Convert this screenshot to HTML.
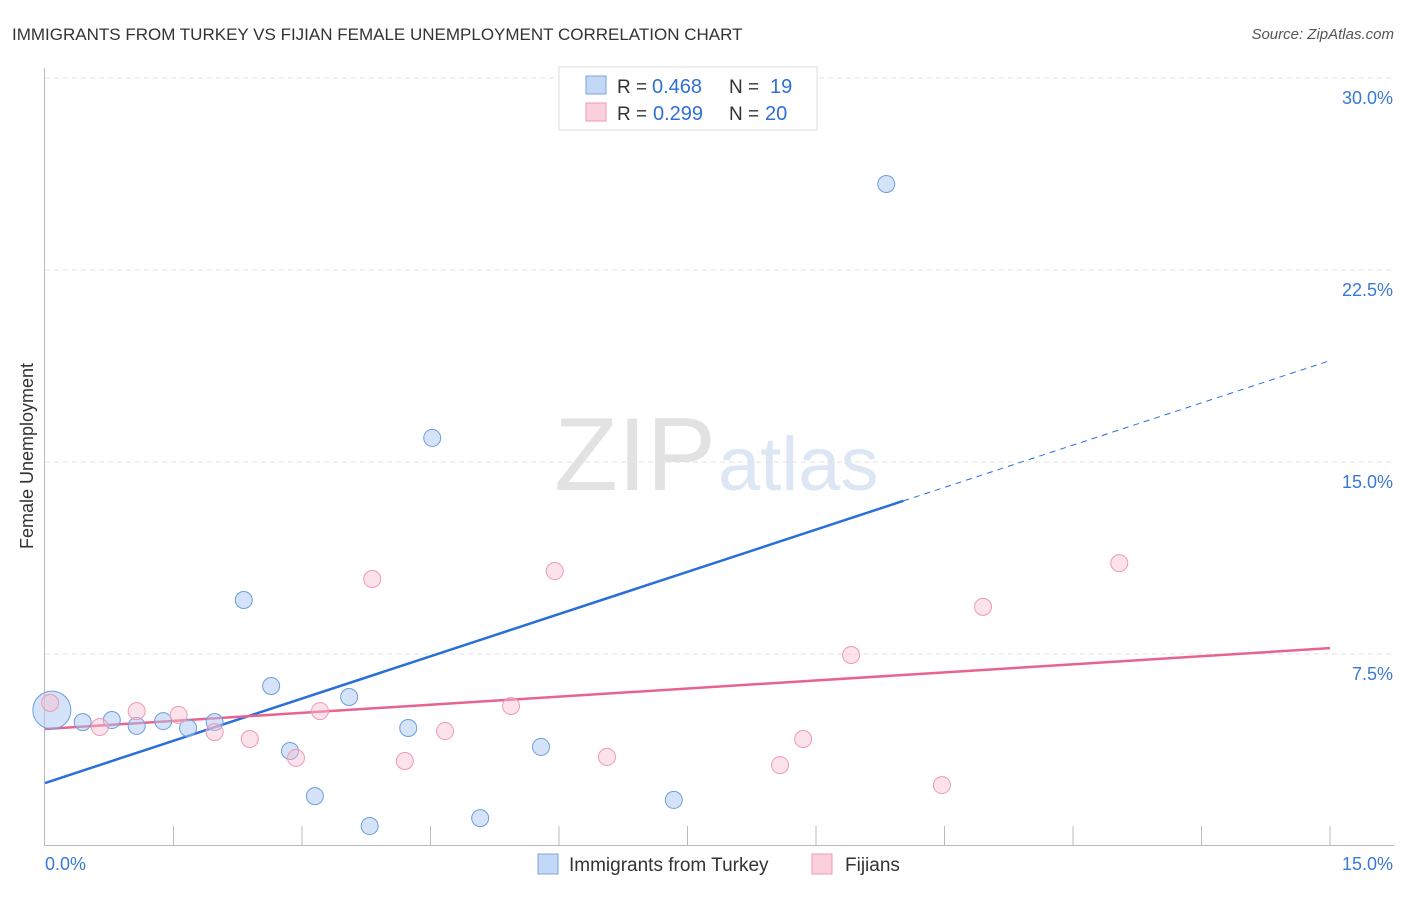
<!DOCTYPE html>
<html><head><meta charset="utf-8"><style>
body{margin:0;background:#fff;font-family:"Liberation Sans",sans-serif;}
svg text{font-family:"Liberation Sans",sans-serif;}
</style></head><body>
<svg id="chart" width="1406" height="892" xmlns="http://www.w3.org/2000/svg">
<text x="12" y="40" font-size="17" fill="#333">IMMIGRANTS FROM TURKEY VS FIJIAN FEMALE UNEMPLOYMENT CORRELATION CHART</text>
<text x="1394" y="39" font-size="15" fill="#555" font-style="italic" text-anchor="end">Source: ZipAtlas.com</text>
<text x="716" y="490" font-size="104" fill="#e2e2e2" text-anchor="end" font-family="Liberation Serif">ZIP</text>
<text x="718" y="490" font-size="76" fill="#dce6f5">atlas</text>
<text transform="translate(33,456) rotate(-90)" font-size="18" fill="#333" text-anchor="middle">Female Unemployment</text>
<g id="grid"></g><g id="axes"></g><g id="lines"></g><g id="pts"></g>
<g>
<rect x="559" y="67" width="258" height="63" fill="#fff" stroke="#ddd"/>
<rect x="586" y="76" width="20" height="18" fill="#c3d8f7" stroke="#7aa6e6"/>
<rect x="586" y="103" width="20" height="18" fill="#fbd0dc" stroke="#ef97b2"/>
<text x="617" y="93" font-size="19" fill="#333">R =</text>
<text x="652" y="93" font-size="20" fill="#2f6fd6">0.468</text>
<text x="729" y="93" font-size="19" fill="#333">N =</text>
<text x="770" y="93" font-size="20" fill="#2f6fd6">19</text>
<text x="617" y="120" font-size="19" fill="#333">R =</text>
<text x="653" y="120" font-size="20" fill="#2f6fd6">0.299</text>
<text x="729" y="120" font-size="19" fill="#333">N =</text>
<text x="765" y="120" font-size="20" fill="#2f6fd6">20</text>
</g>
<g>
<rect x="538" y="854" width="20" height="20" fill="#c3d8f7" stroke="#7aa6e6"/>
<text x="569" y="871" font-size="19" fill="#333">Immigrants from Turkey</text>
<rect x="812" y="854" width="20" height="20" fill="#fbd0dc" stroke="#ef97b2"/>
<text x="845" y="871" font-size="19" fill="#333">Fijians</text>
</g>
</svg>
<script>
const yTicks=[7.5,15,22.5,30];
const yTickLabels=["7.5%","15.0%","22.5%","30.0%"];
const xTicks=[0,1.5,3,4.5,6,7.5,9,10.5,12,13.5,15];
const turkeyX=[0.08,0.44,0.78,1.07,1.38,1.67,1.98,2.32,2.64,2.86,3.15,3.55,3.79,4.24,4.52,5.08,5.79,7.34,9.82];
const turkeyY=[5.31,4.84,4.92,4.69,4.88,4.61,4.84,9.61,6.25,3.71,1.95,5.82,0.78,4.61,15.94,1.09,3.87,1.80,25.86];
const fijiX=[0.06,0.64,1.07,1.56,1.98,2.39,2.93,3.21,3.82,4.20,4.67,5.44,5.95,6.56,8.58,8.85,9.41,10.47,10.95,12.54];
const fijiY=[5.59,4.65,5.27,5.12,4.45,4.18,3.44,5.27,10.43,3.32,4.49,5.47,10.74,3.48,3.16,4.18,7.46,2.38,9.34,11.05];
const turkeyTrend=[2.46,18.96];
const fijiTrend=[4.57,7.73];
const turkeySolidEnd=10.02;
const NS="http://www.w3.org/2000/svg";
const X=v=>45+v/15*1285, Y=v=>846-v/7.5*192;
function mk(t,a,p){const e=document.createElementNS(NS,t);for(const k in a)e.setAttribute(k,a[k]);p.appendChild(e);return e;}
const grid=document.getElementById('grid'),axes=document.getElementById('axes'),lines=document.getElementById('lines'),pts=document.getElementById('pts');
yTicks.forEach((t,i)=>{
 const g=mk('line',{x1:45,x2:1394,y1:Y(t),y2:Y(t),stroke:'#e2e2e2','stroke-dasharray':'5,4'},grid);
 
 
 const l=mk('text',{x:1393,y:Y(t)+26,'font-size':18,fill:'#3a78d6','text-anchor':'end'},grid);
 l.textContent=yTickLabels[i];
 
 
});
const ya=mk('line',{x1:44.5,x2:44.5,y1:68,y2:846,stroke:'#bbb'},axes);


const xa=mk('line',{x1:44,x2:1394,y1:845.5,y2:845.5,stroke:'#bbb'},axes);


xTicks.forEach(t=>{if(t===0)return;const k=mk('line',{x1:X(t),x2:X(t),y1:826,y2:846,stroke:'#bbb'},axes);
 
 });
const x0=mk('text',{x:45,y:870,'font-size':18,fill:'#3a78d6'},axes);x0.textContent='0.0%';


const x1=mk('text',{x:1393,y:870,'font-size':18,fill:'#3a78d6','text-anchor':'end'},axes);x1.textContent='15.0%';


const tAt=x=>turkeyTrend[0]+(turkeyTrend[1]-turkeyTrend[0])*x/15;
const ls=mk('line',{x1:X(0),y1:Y(tAt(0)),x2:X(turkeySolidEnd),y2:Y(tAt(turkeySolidEnd)),stroke:'#2a6fd8','stroke-width':2.5},lines);


const ld=mk('line',{x1:X(turkeySolidEnd),y1:Y(tAt(turkeySolidEnd)),x2:X(15),y2:Y(tAt(15)),stroke:'#2a6fd8','stroke-width':1,'stroke-dasharray':'6,5'},lines);


const lf=mk('line',{x1:X(0),y1:Y(fijiTrend[0]),x2:X(15),y2:Y(fijiTrend[1]),stroke:'#e8638f','stroke-width':2.5},lines);


turkeyX.forEach((v,i)=>{const c=mk('circle',{cx:X(v),cy:Y(turkeyY[i]),r:i===0?19:8.5,fill:'rgba(170,200,240,0.5)',stroke:'#6e9de0','stroke-width':1},pts);
 
 });
fijiX.forEach((v,i)=>{const c=mk('circle',{cx:X(v),cy:Y(fijiY[i]),r:8.5,fill:'rgba(248,190,208,0.45)',stroke:'#ee9ab4','stroke-width':1},pts);
 
 });
</script>
</body></html>
